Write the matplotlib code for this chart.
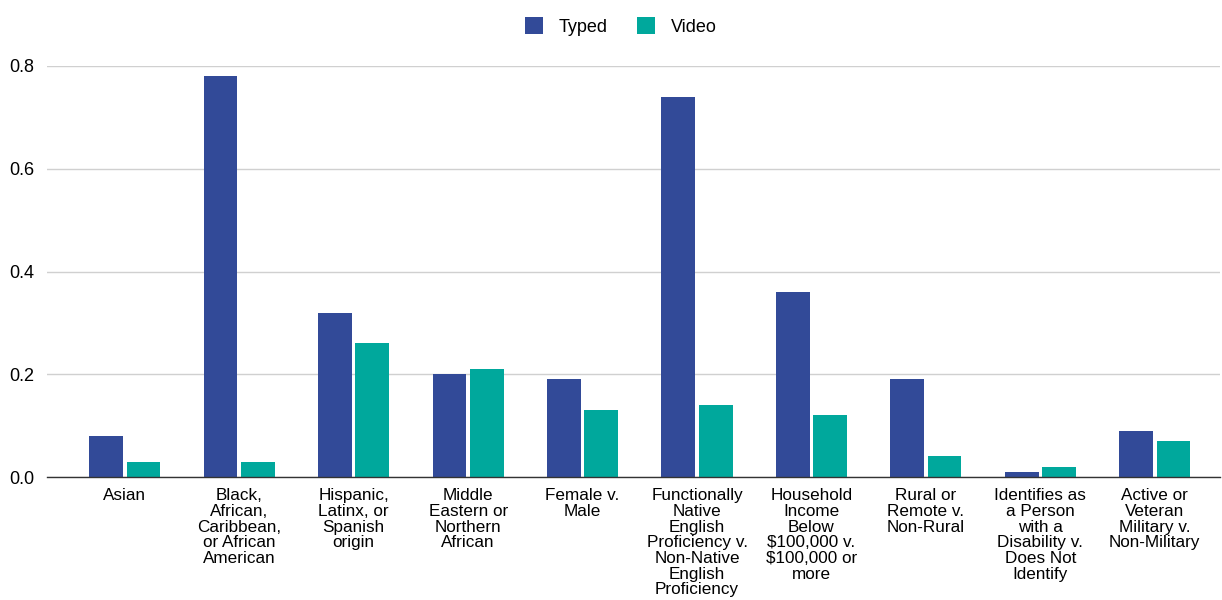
import matplotlib.pyplot as plt
import numpy as np

plt.rcParams['font.family'] = ['Liberation Sans', 'DejaVu Sans']

# data
categories = [
    'Asian',
    'Black,\nAfrican,\nCaribbean,\nor African\nAmerican',
    'Hispanic,\nLatinx, or\nSpanish\norigin',
    'Middle\nEastern or\nNorthern\nAfrican',
    'Female v.\nMale',
    'Functionally\nNative\nEnglish\nProficiency v.\nNon-Native\nEnglish\nProficiency',
    'Household\nIncome\nBelow\n$100,000 v.\n$100,000 or\nmore',
    'Rural or\nRemote v.\nNon-Rural',
    'Identifies as\na Person\nwith a\nDisability v.\nDoes Not\nIdentify',
    'Active or\nVeteran\nMilitary v.\nNon-Military',
]
typed = [0.08, 0.78, 0.32, 0.20, 0.19, 0.74, 0.36, 0.19, 0.01, 0.09]
video = [0.03, 0.03, 0.26, 0.21, 0.13, 0.14, 0.12, 0.04, 0.02, 0.07]
y_ticks = [0.0, 0.2, 0.4, 0.6, 0.8]

fig = plt.figure(figsize=(12.22, 6), dpi=100)
ax = fig.add_axes([47 / 1222, 123 / 600, (1220 - 47) / 1222, (477 - 66) / 600])

x = np.arange(len(categories))
w = 0.295
ax.bar(x - 0.163, typed, w, color='#324a98', label='Typed')
ax.bar(x + 0.163, video, w, color='#00a89c', label='Video')

ax.set_xlim(-0.68, 9.57)
ax.set_ylim(0, 0.8)
ax.set_yticks(y_ticks)
ax.set_yticklabels(['%.1f' % v for v in y_ticks], fontsize=13)
ax.set_xticks(x)
ax.set_xticklabels(categories, fontsize=12.3, linespacing=1.06, va='top')
ax.tick_params(axis='both', length=0)
ax.tick_params(axis='y', pad=9)
ax.tick_params(axis='x', pad=8)

ax.grid(axis='y', color='#d0d0d0', linewidth=1)
ax.set_axisbelow(True)
for s in ['top', 'right', 'left']:
    ax.spines[s].set_visible(False)
ax.spines['bottom'].set_color('#333333')
ax.spines['bottom'].set_linewidth(1)
ax.spines['bottom'].set_zorder(5)

fig.legend(loc='upper center', bbox_to_anchor=(0.508, 0.998), ncol=2, frameon=False,
           fontsize=13, handlelength=1.0, handleheight=1.0, columnspacing=1.6, handletextpad=0.9)

fig.savefig('out.png', dpi=100)
